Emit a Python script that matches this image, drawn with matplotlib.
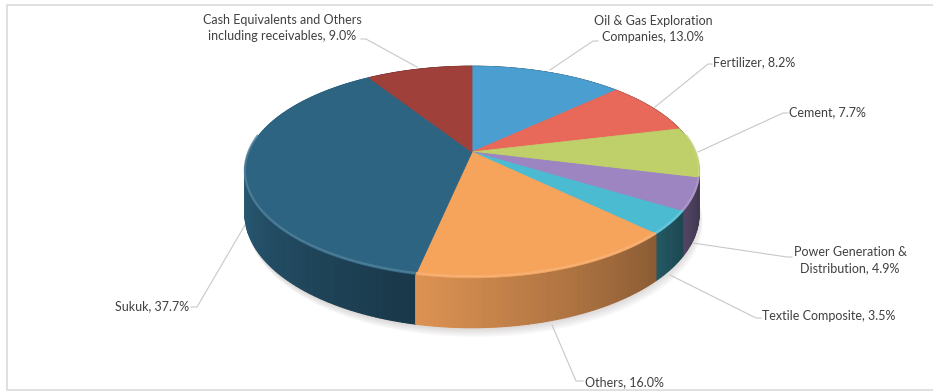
import numpy as np
import matplotlib
matplotlib.use("Agg")
import matplotlib.pyplot as plt
from matplotlib.patches import Polygon
from matplotlib.colors import to_rgb

# ---- data ----
categories = ["Oil & Gas Exploration\nCompanies", "Fertilizer", "Cement",
              "Power Generation &\nDistribution", "Textile Composite", "Others",
              "Sukuk", "Cash Equivalents and Others\nincluding receivables"]
values = [13.0, 8.2, 7.7, 4.9, 3.5, 16.0, 37.7, 9.0]
colors = ["#4A9ED0", "#E8695A", "#BFD06A", "#9C85C0", "#4BBBD2", "#F6A35C",
          "#2D6482", "#A0403A"]

# label layout (pixel positions of text, leader-line path)
label_pos = [(653, 29, "center"), (713, 62, "left"), (789, 112, "left"),
             (850, 260, "center"), (762, 316, "left"), (585, 382, "left"),
             (115, 306, "left"), (282, 28, "center")]
leaders = [[(598, 41), (593, 41), (550, 70)],
           [(712, 64), (708, 64), (655, 107)],
           [(788, 113), (783, 113), (698, 152)],
           [(792, 257), (787, 257), (693, 243)],
           [(761, 318), (756, 318), (670, 275)],
           [(583, 381), (576, 381), (552, 325)],
           [(191, 307), (197, 307), (245, 225)],
           [(361, 39), (366, 39), (417, 67)]]

W, Hpx = 933, 392
fig = plt.figure(figsize=(W / 100, Hpx / 100), dpi=100)
ax = fig.add_axes([0, 0, 1, 1])
ax.set_xlim(0, W)
ax.set_ylim(Hpx, 0)
ax.axis("off")

CX, CY, A, B, DEPTH, P = 472, 152, 223, 102, 40.5, 0.189


def proj(th_deg, t=0.0):
    th = np.radians(th_deg)
    u = np.sin(th)
    v = -np.cos(th)
    d = 1.0 / (1.0 - P * v)
    return CX + A * u * d, CY + (B * v + DEPTH * t) * d


def shade(c, f):
    r, g, b = to_rgb(c)
    return (r * f, g * f, b * f)


def lighten(c, f):
    r, g, b = to_rgb(c)
    return (r + (1 - r) * f, g + (1 - g) * f, b + (1 - b) * f)


total = sum(values)
cum = np.concatenate([[0.0], np.cumsum(values)]) / total * 360.0

# soft shadow under the pie
ths = np.linspace(0, 360, 361)
for k in range(7):
    pts = [proj(t, 1.0) for t in ths]
    pts = [(x + k * 0.6, y + 2 + k * 1.2) for x, y in pts]
    ax.add_patch(Polygon(pts, closed=True, facecolor="#7a6a6a", edgecolor="none",
                         alpha=0.035, zorder=1))

# side (rim) quads, painter's order
VIS_LO, VIS_HI = 101.0, 259.0
quads = []
for i, (s, e) in enumerate(zip(cum[:-1], cum[1:])):
    lo_v, hi_v = max(s, VIS_LO), min(e, VIS_HI)
    span = max(hi_v - lo_v, 0.0)
    w = min(1.0, span / 57.0)
    fhi = 0.35 + 0.55 * w
    flo = 0.33 + 0.23 * w
    n = max(2, int(np.ceil((e - s) / 1.0)) + 1)
    th = np.linspace(s, e, n)
    for a, b in zip(th[:-1], th[1:]):
        m = 0.5 * (a + b)
        frac = np.clip((m - lo_v) / span, 0, 1) if span > 0 else 0.0
        f = flo + (fhi - flo) * frac
        poly = [proj(a, 0), proj(b, 0), proj(b, 1), proj(a, 1)]
        vmid = -np.cos(np.radians(m))
        quads.append((vmid, poly, shade(colors[i], f)))
quads.sort(key=lambda q: q[0])
for _, poly, col in quads:
    ax.add_patch(Polygon(poly, closed=True, facecolor=col, edgecolor=col,
                         linewidth=0.8, zorder=2))

# top faces
for i, (s, e) in enumerate(zip(cum[:-1], cum[1:])):
    th = np.linspace(s, e, max(3, int((e - s) * 2)))
    pts = [(CX, CY)] + [proj(t, 0) for t in th]
    ax.add_patch(Polygon(pts, closed=True, facecolor=colors[i],
                         edgecolor=colors[i], linewidth=0.6, zorder=3))
    # bevel highlight along the front edge
    lo_v, hi_v = max(s, VIS_LO - 20), min(e, VIS_HI + 20)
    if hi_v > lo_v:
        tt = np.linspace(lo_v, hi_v, 60)
        p = np.array([proj(t, 0) for t in tt])
        ax.plot(p[:, 0], p[:, 1] - 1.5, color=lighten(colors[i], 0.18),
                lw=1.6, alpha=0.8, zorder=4, solid_capstyle="butt")

# labels and leader lines
for i, (cat, val) in enumerate(zip(categories, values)):
    x, y, ha = label_pos[i]
    ax.text(x, y, f"{cat}, {val:.1f}%", ha=ha, va="center", fontsize=9,
            family=["Lato", "DejaVu Sans"], color="#404040", linespacing=1.45,
            zorder=6)
    path = np.array(leaders[i])
    ax.plot(path[:, 0], path[:, 1], color="#C8C8C8", lw=0.8, zorder=5)

# chart frame
ax.plot([W + 5, 7, 7, W + 5], [5, 5, 390, 390], color="#DADADA", lw=1.2,
        zorder=0)

fig.savefig("out.png", dpi=100, facecolor="white")
